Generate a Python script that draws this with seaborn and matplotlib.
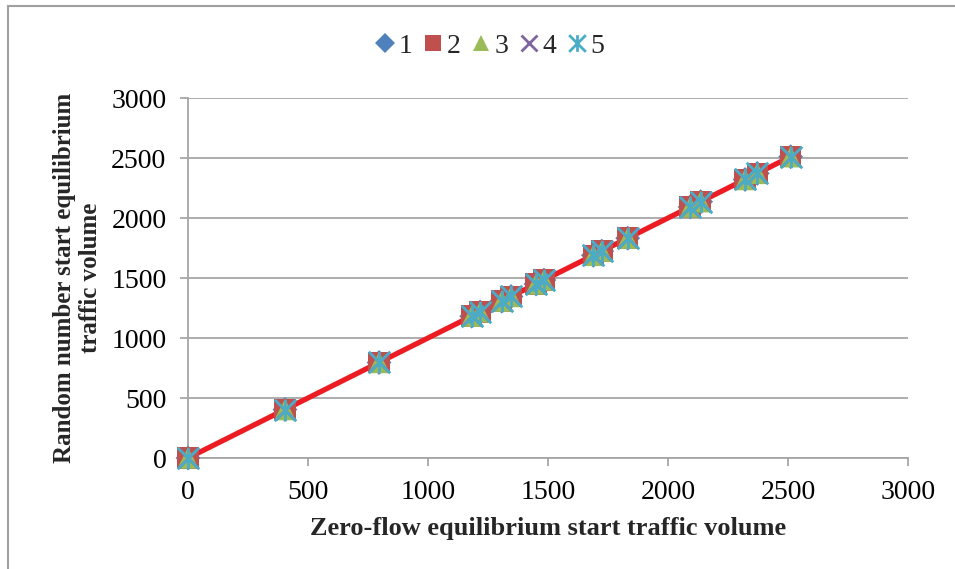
import matplotlib
matplotlib.use("Agg")
import matplotlib.pyplot as plt
import seaborn as sns
import pandas as pd
from matplotlib.path import Path
from matplotlib.patches import Rectangle
from matplotlib.lines import Line2D

# Link flows from the two start strategies (five runs, nearly identical)
series_names = ["1", "2", "3", "4", "5"]
zero_flow_start = [0, 404, 796, 1182, 1217, 1307, 1346, 1450, 1483,
                   1689, 1724, 1832, 2092, 2136, 2321, 2372, 2511]
random_start = [0, 404, 796, 1182, 1217, 1307, 1346, 1450, 1483,
                1689, 1724, 1832, 2092, 2136, 2321, 2372, 2511]

x_ticks = [0, 500, 1000, 1500, 2000, 2500, 3000]
y_ticks = [0, 500, 1000, 1500, 2000, 2500, 3000]

colors = ["#4F81BD", "#C0504D", "#9BBB59", "#8064A2", "#4BACC6"]

# asterisk marker: an X with a vertical stroke
ast_verts = [(-0.5, -0.5), (0.5, 0.5), (-0.5, 0.5), (0.5, -0.5), (0, -0.5), (0, 0.5)]
ast_codes = [Path.MOVETO, Path.LINETO, Path.MOVETO, Path.LINETO, Path.MOVETO, Path.LINETO]
asterisk = Path(ast_verts, ast_codes)

markers = ["D", "s", "^", "x", asterisk]
sizes = [160, 240, 240, 200, 240]

sns.set_theme(style="white")
plt.rcParams["font.family"] = ["Liberation Serif", "DejaVu Serif"]

frames = []
for name in series_names:
    frames.append(pd.DataFrame({"series": name,
                                "zero": zero_flow_start,
                                "random": random_start}))
df = pd.concat(frames, ignore_index=True)

fig = plt.figure(figsize=(9.55, 5.69), dpi=100)
ax = fig.add_axes([188 / 955, 1 - 458 / 569, 720 / 955, 360 / 569])

# red connecting line
sns.lineplot(data=df[df["series"] == "1"], x="zero", y="random", ax=ax,
             color="#ED1C24", linewidth=3.8, sort=True, zorder=2,
             legend=False, estimator=None)

for i, name in enumerate(series_names):
    sub = df[df["series"] == name]
    filled = markers[i] in ("D", "s", "^")
    if filled:
        kw = dict(edgecolor="none")
    else:
        kw = dict(edgecolor=colors[i], linewidth=2.0)
    sns.scatterplot(data=sub, x="zero", y="random", ax=ax, marker=markers[i],
                    s=sizes[i], color=colors[i], zorder=3 + i, legend=False, **kw)

ax.set_xticks(x_ticks)
ax.set_yticks(y_ticks)
ax.set_xticklabels([str(t) for t in x_ticks])
ax.set_yticklabels([str(t) for t in y_ticks])
ax.set_xlim(0, 3000)
ax.set_ylim(0, 3000)

grid_c = "#A6A6A6"
ax.yaxis.grid(True, color=grid_c, linewidth=1.3)
ax.xaxis.grid(False)
ax.set_axisbelow(True)
for side in ("top", "right"):
    ax.spines[side].set_visible(False)
for side in ("left", "bottom"):
    ax.spines[side].set_color(grid_c)
    ax.spines[side].set_linewidth(1.3)
for coll in ax.collections:
    coll.set_clip_on(False)

ax.tick_params(axis="both", which="major", direction="out", length=5.5,
               width=1.3, color=grid_c, labelsize=20, labelcolor="black",
               left=True, bottom=True)
ax.tick_params(axis="y", pad=10)
ax.tick_params(axis="x", pad=10)

ax.set_xlabel("Zero-flow equilibrium start traffic volume", fontsize=19,
              fontweight="bold", labelpad=9)
ax.set_ylabel("Random number start equilibrium\ntraffic volume", fontsize=18,
              fontweight="bold", labelpad=7, linespacing=1.15)

handles = []
for i, name in enumerate(series_names):
    filled = markers[i] in ("D", "s", "^")
    handles.append(Line2D([], [], linestyle="none", marker=markers[i],
                          markersize=12 if markers[i] != "D" else 10,
                          color=colors[i],
                          markeredgewidth=0 if filled else 2.0,
                          label=name))
fig.legend(handles=handles, loc="center", bbox_to_anchor=(0.512, 1 - 46 / 569),
           ncol=5, frameon=False, fontsize=20, handlelength=0.8,
           handletextpad=0.1, columnspacing=0.33, borderpad=0)

# outer chart border
fig.patches.append(Rectangle((8 / 955, -0.1), 1.2, 1.1 - 6.5 / 569,
                             transform=fig.transFigure, fill=False,
                             edgecolor="#A0A0A0", linewidth=1.5))

fig.savefig("out.png", dpi=100)
